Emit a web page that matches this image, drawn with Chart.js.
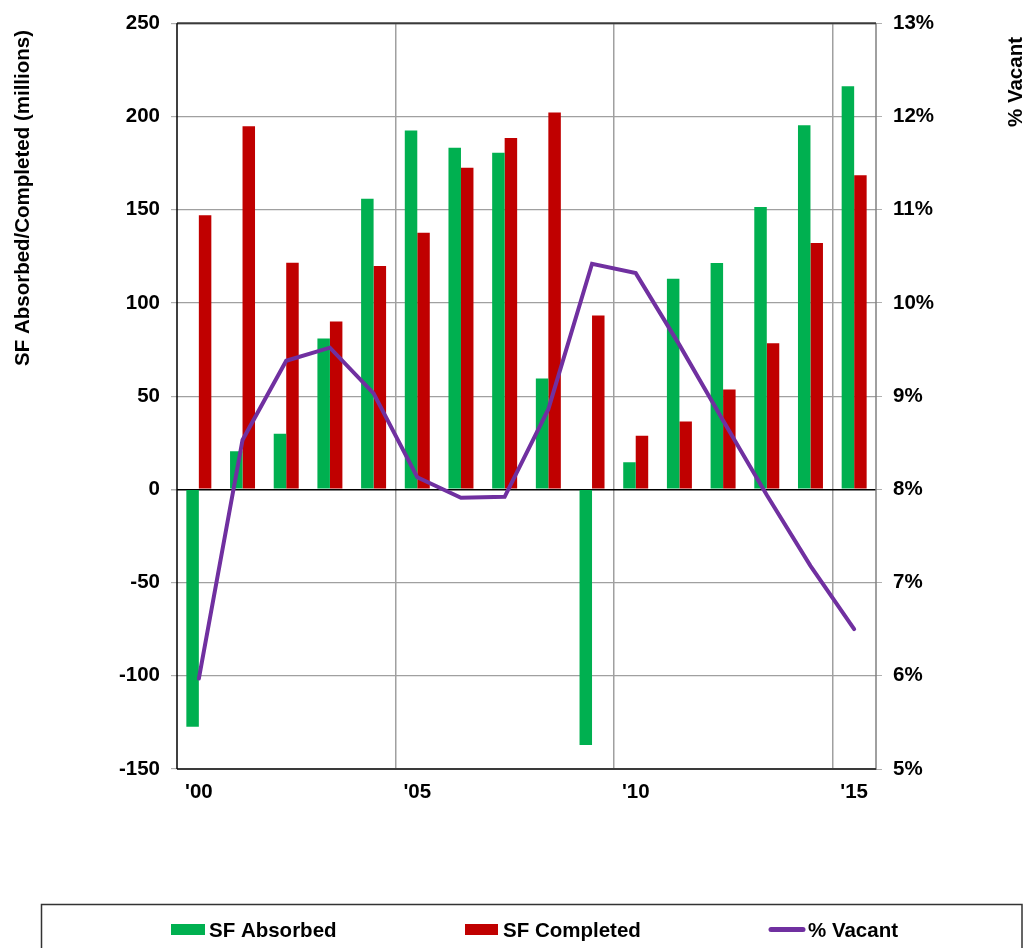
<!DOCTYPE html>
<html>
<head>
<meta charset="utf-8">
<title>Space absorbed, completed and vacancy</title>
<script src="https://cdn.jsdelivr.net/npm/chart.js@4/dist/chart.umd.min.js"></script>
<style>
  html, body { margin: 0; padding: 0; background: #ffffff; overflow: hidden; }
  canvas { display: block; }
</style>
</head>
<body>
<canvas id="chart" width="1025" height="948"></canvas>
<script>
// Years shown on the category axis (only every fifth one is labelled)
const years = [2000, 2001, 2002, 2003, 2004, 2005, 2006, 2007, 2008, 2009, 2010, 2011, 2012, 2013, 2014, 2015];
const yearLabels = ["'00", "", "", "", "", "'05", "", "", "", "", "'10", "", "", "", "", "'15"];

// Square feet absorbed and completed per year, in millions
const sfAbsorbed = [-127.3, 20.5, 29.8, 80.9, 155.9, 192.5, 183.2, 180.5, 59.5, -137.1, 14.5, 113.0, 121.4, 151.4, 195.3, 216.2];
const sfCompleted = [147.1, 194.8, 121.6, 90.1, 119.8, 137.6, 172.5, 188.5, 202.1, 93.2, 28.7, 36.4, 53.6, 78.4, 132.1, 168.5];

// Vacancy rate, percent
const pctVacant = [5.97, 8.53, 9.38, 9.52, 9.03, 8.13, 7.91, 7.92, 8.86, 10.42, 10.32, 9.55, 8.74, 7.94, 7.18, 6.50];

// Axis ranges
const leftAxis = { min: -150, max: 250, step: 50 };
const rightAxis = { min: 5, max: 13, step: 1 };

const FAMILY = "'Liberation Sans', Arial, Helvetica, sans-serif";
const FONT = { family: FAMILY, size: 20.5, weight: 'bold' };
const GREEN = '#00B050';
const RED = '#C00000';
const PURPLE = '#7030A0';
const GRID = '#a0a0a0';

// Plot frame, axis titles and the boxed legend underneath
const decorations = {
  id: 'decorations',
  afterDraw(chart) {
    const ctx = chart.ctx;
    const a = chart.chartArea;
    ctx.save();

    // frame around the plot
    ctx.lineCap = 'butt';
    ctx.strokeStyle = '#808080';
    ctx.lineWidth = 1.5;
    ctx.beginPath(); ctx.moveTo(a.right, a.top); ctx.lineTo(a.right, a.bottom + 1); ctx.stroke();
    ctx.strokeStyle = '#3a3a3a';
    ctx.lineWidth = 2;
    ctx.beginPath(); ctx.moveTo(a.left, a.top); ctx.lineTo(a.right, a.top); ctx.stroke();
    ctx.beginPath(); ctx.moveTo(a.left, a.bottom); ctx.lineTo(a.right, a.bottom); ctx.stroke();
    ctx.strokeStyle = '#000000';
    ctx.lineWidth = 1.5;
    ctx.beginPath(); ctx.moveTo(a.left, a.top); ctx.lineTo(a.left, a.bottom); ctx.stroke();

    // axis titles, both read bottom to top
    ctx.fillStyle = '#000000';
    ctx.font = 'bold 20.5px ' + FAMILY;
    ctx.textBaseline = 'alphabetic';
    ctx.textAlign = 'right';
    ctx.save();
    ctx.translate(29.3, 30);
    ctx.rotate(-Math.PI / 2);
    ctx.fillText('SF Absorbed/Completed (millions)', 0, 0);
    ctx.restore();
    ctx.save();
    ctx.translate(1021.5, 37);
    ctx.rotate(-Math.PI / 2);
    ctx.fillText('% Vacant', 0, 0);
    ctx.restore();

    // legend
    ctx.strokeStyle = '#333333';
    ctx.lineWidth = 1.5;
    ctx.strokeRect(41.5, 904.5, 980.5, 80);
    ctx.font = 'bold 20.5px ' + FAMILY;
    ctx.textAlign = 'left';
    ctx.fillStyle = GREEN;
    ctx.fillRect(171, 924, 34, 11);
    ctx.fillStyle = RED;
    ctx.fillRect(465, 924, 33, 11);
    ctx.strokeStyle = PURPLE;
    ctx.lineWidth = 5;
    ctx.lineCap = 'round';
    ctx.beginPath(); ctx.moveTo(771, 929.5); ctx.lineTo(803, 929.5); ctx.stroke();
    ctx.fillStyle = '#000000';
    const names = chart.data.datasets;
    ctx.fillText(names[0].label, 209, 936.5);
    ctx.fillText(names[1].label, 503, 936.5);
    ctx.fillText(names[2].label, 808, 936.5);
    ctx.restore();
  }
};

new Chart(document.getElementById('chart'), {
  type: 'bar',
  data: {
    labels: yearLabels,
    datasets: [
      {
        label: 'SF Absorbed',
        data: sfAbsorbed,
        backgroundColor: GREEN,
        yAxisID: 'y',
        order: 2,
        categoryPercentage: 0.572,
        barPercentage: 1.0
      },
      {
        label: 'SF Completed',
        data: sfCompleted,
        backgroundColor: RED,
        yAxisID: 'y',
        order: 2,
        categoryPercentage: 0.572,
        barPercentage: 1.0
      },
      {
        type: 'line',
        label: '% Vacant',
        data: pctVacant,
        yAxisID: 'y1',
        borderColor: PURPLE,
        backgroundColor: PURPLE,
        borderWidth: 4,
        pointRadius: 0,
        tension: 0,
        fill: false,
        borderCapStyle: 'round',
        order: 0
      }
    ]
  },
  options: {
    responsive: false,
    animation: false,
    devicePixelRatio: 1,
    layout: { padding: { top: 22, left: 0, right: 0, bottom: 0 } },
    plugins: {
      legend: { display: false },
      tooltip: { enabled: false }
    },
    scales: {
      x: {
        offset: true,
        grid: {
          offset: true,
          drawTicks: false,
          lineWidth: 1.5,
          color: (c) => (c.index > 0 && c.index < years.length && c.index % 5 === 0) ? GRID : 'rgba(0,0,0,0)'
        },
        border: { display: false },
        ticks: {
          autoSkip: false,
          maxRotation: 0,
          minRotation: 0,
          padding: 11,
          color: '#000000',
          font: FONT
        },
        afterFit: (s) => { s.height = 179; }
      },
      y: {
        position: 'left',
        min: leftAxis.min,
        max: leftAxis.max,
        ticks: {
          stepSize: leftAxis.step,
          padding: 11,
          color: '#000000',
          font: FONT
        },
        grid: {
          color: (c) => (c.tick && c.tick.value === 0) ? '#000000' : GRID,
          lineWidth: (c) => (c.tick && c.tick.value === 0) ? 1.5 : 1.2,
          tickLength: 6,
          tickColor: '#b0b0b0'
        },
        border: { display: false },
        afterFit: (s) => { s.width = 177; }
      },
      y1: {
        position: 'right',
        min: rightAxis.min,
        max: rightAxis.max,
        ticks: {
          stepSize: rightAxis.step,
          padding: 11,
          color: '#000000',
          font: FONT,
          callback: (v) => v + '%'
        },
        grid: {
          drawOnChartArea: false,
          tickLength: 6,
          tickColor: '#b0b0b0'
        },
        border: { display: false },
        afterFit: (s) => { s.width = 149; }
      }
    }
  },
  plugins: [decorations]
});
</script>
</body>
</html>
